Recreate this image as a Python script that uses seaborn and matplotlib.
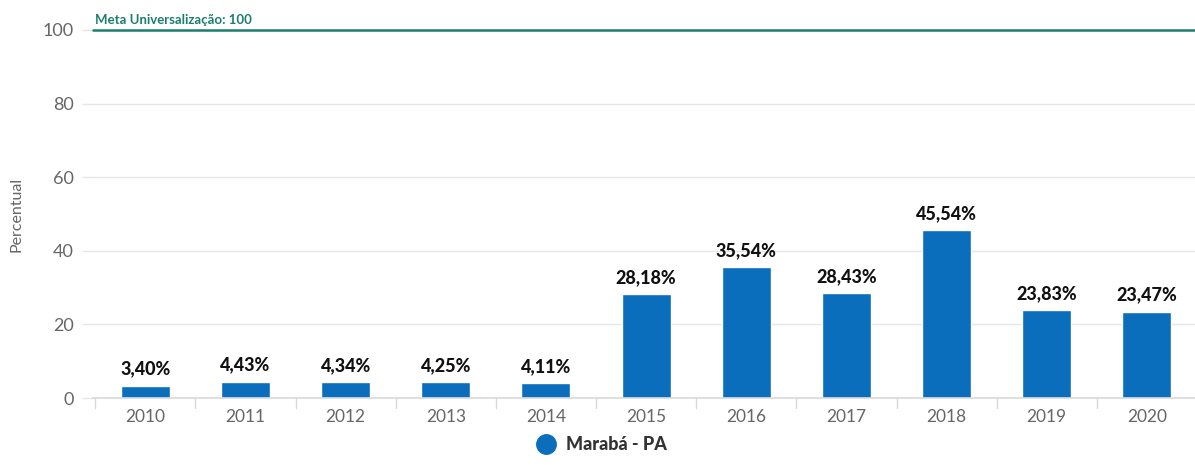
import matplotlib
matplotlib.use("Agg")
import matplotlib.pyplot as plt
from matplotlib.lines import Line2D
import seaborn as sns
import pandas as pd

years = ["2010", "2011", "2012", "2013", "2014", "2015", "2016", "2017", "2018", "2019", "2020"]
values = [3.40, 4.43, 4.34, 4.25, 4.11, 28.18, 35.54, 28.43, 45.54, 23.83, 23.47]
series_name = "Marabá - PA"
goal_value = 100
goal_label = "Meta Universalização: 100"
y_ticks = [0, 20, 40, 60, 80, 100]

bar_color = "#0a6ebd"
goal_color = "#1b7f6c"
grid_color = "#e6e6e6"
text_gray = "#666666"

sns.set_theme(style="white")
plt.rcParams["font.family"] = ["Lato", "DejaVu Sans"]

df = pd.DataFrame({"Ano": years, "Percentual": values})

fig = plt.figure(figsize=(11.95, 4.65), dpi=100)
ax = fig.add_axes([0.078, 0.144, 0.922, 0.7915])

for t in y_ticks:
    ax.axhline(t, color=grid_color, lw=1, zorder=0)

sns.barplot(data=df, x="Ano", y="Percentual", color=bar_color, width=0.49,
            saturation=1, ax=ax, zorder=2)

ax.set_xlim(-0.52, len(years) - 0.52)
ax.set_ylim(0, 100)
ax.set_yticks(y_ticks)
ax.set_yticklabels([str(t) for t in y_ticks], color=text_gray, fontsize=13)
ax.set_xticks(range(len(years)))
ax.set_xticklabels(years, color=text_gray, fontsize=12.5)
ax.tick_params(axis="x", length=0, pad=8)
ax.tick_params(axis="y", length=8, color=grid_color, width=1, pad=6, left=True)

# tick marks between categories
for b in [i - 0.5 for i in range(len(years) + 1)]:
    ax.plot([b, b], [0, -2.6], color="#d9d9d9", lw=1, clip_on=False, zorder=1)

for s in ["top", "right", "left"]:
    ax.spines[s].set_visible(False)
ax.spines["bottom"].set_color("#d9d9d9")
ax.spines["bottom"].set_linewidth(1.2)

ax.set_xlabel("")
ax.set_ylabel("Percentual", color=text_gray, fontsize=11.5, fontweight="normal")
ax.yaxis.set_label_coords(-0.063, 0.5)

# value labels
for i, v in enumerate(values):
    ax.text(i, v + 2.2, f"{v:.2f}".replace(".", ",") + "%", ha="center", va="bottom",
            fontsize=13, fontweight="black", color="#111111", zorder=3)

# goal line
ax.axhline(goal_value, xmin=0.0, xmax=1.0, color=goal_color, lw=1.8, zorder=3, clip_on=False)
ax.text(-0.5, goal_value + 1.2, goal_label, ha="left", va="bottom", fontsize=9.5,
        fontweight="bold", color=goal_color)

# legend
handle = Line2D([0], [0], marker="o", linestyle="", markersize=14,
                markerfacecolor=bar_color, markeredgecolor=bar_color)
leg = fig.legend([handle], [series_name], loc="lower center", bbox_to_anchor=(0.5, -0.01),
                 frameon=False, handletextpad=0.1, prop={"weight": "black", "size": 13})
for txt in leg.get_texts():
    txt.set_color("#333333")

fig.savefig("out.png", dpi=100)
